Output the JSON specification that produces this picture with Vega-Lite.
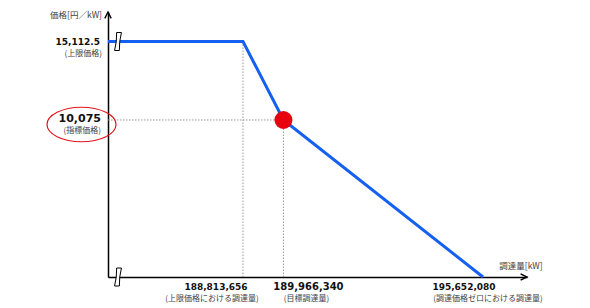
{
  "$schema": "https://vega.github.io/schema/vega-lite/v6.json",
  "autosize": "none",
  "width": 419,
  "height": 265,
  "padding": {"left": 108, "top": 12, "right": 63, "bottom": 31},
  "background": "white",
  "config": {
    "view": {"stroke": null},
    "axis": {"labels": false, "ticks": false, "grid": false, "domainColor": "#000000", "domainWidth": 1.5}
  },
  "datasets": {
    "curve": [
      {"q": 184967000, "p": 15112.5},
      {"q": 188813656, "p": 15112.5},
      {"q": 189966340, "p": 10075},
      {"q": 195652080, "p": 0}
    ],
    "guides": [
      {"q": 188813656, "q2": 188813656, "p": 0, "p2": 15112.5},
      {"q": 189966340, "q2": 189966340, "p": 0, "p2": 10075},
      {"q": 184967000, "q2": 189966340, "p": 10075, "p2": 10075}
    ],
    "target": [{"q": 189966340, "p": 10075}],
    "breaks": [
      {"q": 185252000, "p": 15112.5},
      {"q": 185252000, "p": 0}
    ],
    "corner": [{"qmin": 184967000, "qmax": 196906000, "pmin": 0, "pmax": 17005}],
    "labels": [
      {"id": "ytitle", "q": 184967000, "p": 17005, "label": "価格[円／kW]"},
      {"id": "xtitle", "q": 196906000, "p": 0, "label": "調達量[kW]"},
      {"id": "upper", "q": 184967000, "p": 15112.5, "label": "15,112.5"},
      {"id": "upper_sub", "q": 184967000, "p": 15112.5, "label": "(上限価格)"},
      {"id": "index", "q": 184967000, "p": 10075, "label": "10,075"},
      {"id": "index_sub", "q": 184967000, "p": 10075, "label": "(指標価格)"},
      {"id": "q1", "q": 188813656, "p": 0, "label": "188,813,656"},
      {"id": "q1_sub", "q": 188813656, "p": 0, "label": "(上限価格における調達量)"},
      {"id": "q2", "q": 189966340, "p": 0, "label": "189,966,340"},
      {"id": "q2_sub", "q": 189966340, "p": 0, "label": "(目標調達量)"},
      {"id": "q3", "q": 195652080, "p": 0, "label": "195,652,080"},
      {"id": "q3_sub", "q": 195652080, "p": 0, "label": "(調達価格ゼロにおける調達量)"}
    ]
  },
  "layer": [
    {
      "data": {"name": "guides"},
      "mark": {"type": "rule", "color": "#9a9a9a", "strokeWidth": 1, "strokeDash": [1.5, 1.5]},
      "encoding": {
        "x": {"field": "q", "type": "quantitative", "title": null, "scale": {"domain": [184967000, 196906000], "nice": false, "zero": false}},
        "x2": {"field": "q2"},
        "y": {"field": "p", "type": "quantitative", "title": null, "scale": {"domain": [0, 17005], "nice": false, "zero": false}},
        "y2": {"field": "p2"}
      }
    },
    {
      "data": {"name": "curve"},
      "mark": {"type": "line", "color": "#1560f0", "strokeWidth": 3, "clip": false},
      "encoding": {
        "x": {"field": "q", "type": "quantitative", "title": null},
        "y": {"field": "p", "type": "quantitative", "title": null}
      }
    },
    {
      "data": {"name": "breaks"},
      "mark": {"type": "point", "shape": "M-0.15,-1 L0.38,-1 Q0.12,0 0.15,1 L-0.38,1 Q-0.12,0 -0.15,-1 Z", "size": 324, "filled": true, "fill": "white", "stroke": "#000000", "strokeWidth": 1, "opacity": 1},
      "encoding": {
        "x": {"field": "q", "type": "quantitative", "title": null},
        "y": {"field": "p", "type": "quantitative", "title": null}
      }
    },
    {
      "data": {"name": "target"},
      "mark": {"type": "point", "shape": "circle", "size": 324, "filled": true, "color": "#e8000f", "opacity": 1},
      "encoding": {
        "x": {"field": "q", "type": "quantitative", "title": null},
        "y": {"field": "p", "type": "quantitative", "title": null}
      }
    },
    {
      "data": {"name": "target"},
      "mark": {"type": "point", "shape": "M-1.768,0.13 A1,0.5 0 1,0 0.232,0.13 A1,0.5 0 1,0 -1.768,0.13 Z", "size": 4761, "filled": false, "stroke": "#e3141c", "strokeWidth": 1.2, "opacity": 1},
      "encoding": {
        "x": {"datum": 184967000, "type": "quantitative"},
        "y": {"field": "p", "type": "quantitative", "title": null}
      }
    },
    {
      "data": {"name": "corner"},
      "mark": {"type": "point", "shape": "M-0.8,1.6 L0,0 L0.8,1.6", "size": 64, "filled": false, "stroke": "#000000", "strokeWidth": 1.4, "opacity": 1},
      "encoding": {
        "x": {"field": "qmin", "type": "quantitative", "title": null},
        "y": {"field": "pmax", "type": "quantitative", "title": null}
      }
    },
    {
      "data": {"name": "corner"},
      "mark": {"type": "point", "shape": "M-1.6,-0.8 L0,0 L-1.6,0.8", "size": 64, "filled": false, "stroke": "#000000", "strokeWidth": 1.4, "opacity": 1},
      "encoding": {
        "x": {"field": "qmax", "type": "quantitative", "title": null},
        "y": {"field": "pmin", "type": "quantitative", "title": null}
      }
    },
    {
      "data": {"name": "labels"},
      "transform": [{"filter": "datum.id === 'ytitle'"}],
      "mark": {"type": "text", "align": "right", "baseline": "middle", "dx": -6, "dy": 3, "font": "Noto Sans CJK JP", "fontSize": 8.5, "color": "#404040"},
      "encoding": {"x": {"field": "q", "type": "quantitative", "title": null}, "y": {"field": "p", "type": "quantitative", "title": null}, "text": {"field": "label"}}
    },
    {
      "data": {"name": "labels"},
      "transform": [{"filter": "datum.id === 'xtitle'"}],
      "mark": {"type": "text", "align": "center", "baseline": "middle", "dx": -6, "dy": -11, "font": "Noto Sans CJK JP", "fontSize": 8.5, "color": "#404040"},
      "encoding": {"x": {"field": "q", "type": "quantitative", "title": null}, "y": {"field": "p", "type": "quantitative", "title": null}, "text": {"field": "label"}}
    },
    {
      "data": {"name": "labels"},
      "transform": [{"filter": "datum.id === 'upper'"}],
      "mark": {"type": "text", "align": "right", "baseline": "middle", "dx": -8, "dy": 1, "font": "DejaVu Sans", "fontWeight": "bold", "fontSize": 9, "color": "#111111"},
      "encoding": {"x": {"field": "q", "type": "quantitative", "title": null}, "y": {"field": "p", "type": "quantitative", "title": null}, "text": {"field": "label"}}
    },
    {
      "data": {"name": "labels"},
      "transform": [{"filter": "datum.id === 'upper_sub'"}],
      "mark": {"type": "text", "align": "right", "baseline": "middle", "dx": -6, "dy": 12.5, "font": "Noto Sans CJK JP", "fontSize": 8, "color": "#404040"},
      "encoding": {"x": {"field": "q", "type": "quantitative", "title": null}, "y": {"field": "p", "type": "quantitative", "title": null}, "text": {"field": "label"}}
    },
    {
      "data": {"name": "labels"},
      "transform": [{"filter": "datum.id === 'index'"}],
      "mark": {"type": "text", "align": "right", "baseline": "middle", "dx": -7, "dy": -1, "font": "DejaVu Sans", "fontWeight": "bold", "fontSize": 11, "color": "#111111"},
      "encoding": {"x": {"field": "q", "type": "quantitative", "title": null}, "y": {"field": "p", "type": "quantitative", "title": null}, "text": {"field": "label"}}
    },
    {
      "data": {"name": "labels"},
      "transform": [{"filter": "datum.id === 'index_sub'"}],
      "mark": {"type": "text", "align": "right", "baseline": "middle", "dx": -7, "dy": 11.5, "font": "Noto Sans CJK JP", "fontSize": 8, "color": "#404040"},
      "encoding": {"x": {"field": "q", "type": "quantitative", "title": null}, "y": {"field": "p", "type": "quantitative", "title": null}, "text": {"field": "label"}}
    },
    {
      "data": {"name": "labels"},
      "transform": [{"filter": "datum.id === 'q1'"}],
      "mark": {"type": "text", "align": "center", "baseline": "middle", "dx": -27, "dy": 10, "font": "DejaVu Sans", "fontWeight": "bold", "fontSize": 9, "color": "#111111"},
      "encoding": {"x": {"field": "q", "type": "quantitative", "title": null}, "y": {"field": "p", "type": "quantitative", "title": null}, "text": {"field": "label"}}
    },
    {
      "data": {"name": "labels"},
      "transform": [{"filter": "datum.id === 'q1_sub'"}],
      "mark": {"type": "text", "align": "center", "baseline": "middle", "dx": -31, "dy": 22, "font": "Noto Sans CJK JP", "fontSize": 8, "color": "#404040"},
      "encoding": {"x": {"field": "q", "type": "quantitative", "title": null}, "y": {"field": "p", "type": "quantitative", "title": null}, "text": {"field": "label"}}
    },
    {
      "data": {"name": "labels"},
      "transform": [{"filter": "datum.id === 'q2'"}],
      "mark": {"type": "text", "align": "center", "baseline": "middle", "dx": 25, "dy": 10, "font": "DejaVu Sans", "fontWeight": "bold", "fontSize": 10, "color": "#111111"},
      "encoding": {"x": {"field": "q", "type": "quantitative", "title": null}, "y": {"field": "p", "type": "quantitative", "title": null}, "text": {"field": "label"}}
    },
    {
      "data": {"name": "labels"},
      "transform": [{"filter": "datum.id === 'q2_sub'"}],
      "mark": {"type": "text", "align": "center", "baseline": "middle", "dx": 23, "dy": 22, "font": "Noto Sans CJK JP", "fontSize": 8, "color": "#404040"},
      "encoding": {"x": {"field": "q", "type": "quantitative", "title": null}, "y": {"field": "p", "type": "quantitative", "title": null}, "text": {"field": "label"}}
    },
    {
      "data": {"name": "labels"},
      "transform": [{"filter": "datum.id === 'q3'"}],
      "mark": {"type": "text", "align": "center", "baseline": "middle", "dx": -19, "dy": 10, "font": "DejaVu Sans", "fontWeight": "bold", "fontSize": 9, "color": "#111111"},
      "encoding": {"x": {"field": "q", "type": "quantitative", "title": null}, "y": {"field": "p", "type": "quantitative", "title": null}, "text": {"field": "label"}}
    },
    {
      "data": {"name": "labels"},
      "transform": [{"filter": "datum.id === 'q3_sub'"}],
      "mark": {"type": "text", "align": "center", "baseline": "middle", "dx": 5, "dy": 22, "font": "Noto Sans CJK JP", "fontSize": 8, "color": "#404040"},
      "encoding": {"x": {"field": "q", "type": "quantitative", "title": null}, "y": {"field": "p", "type": "quantitative", "title": null}, "text": {"field": "label"}}
    }
  ]
}
